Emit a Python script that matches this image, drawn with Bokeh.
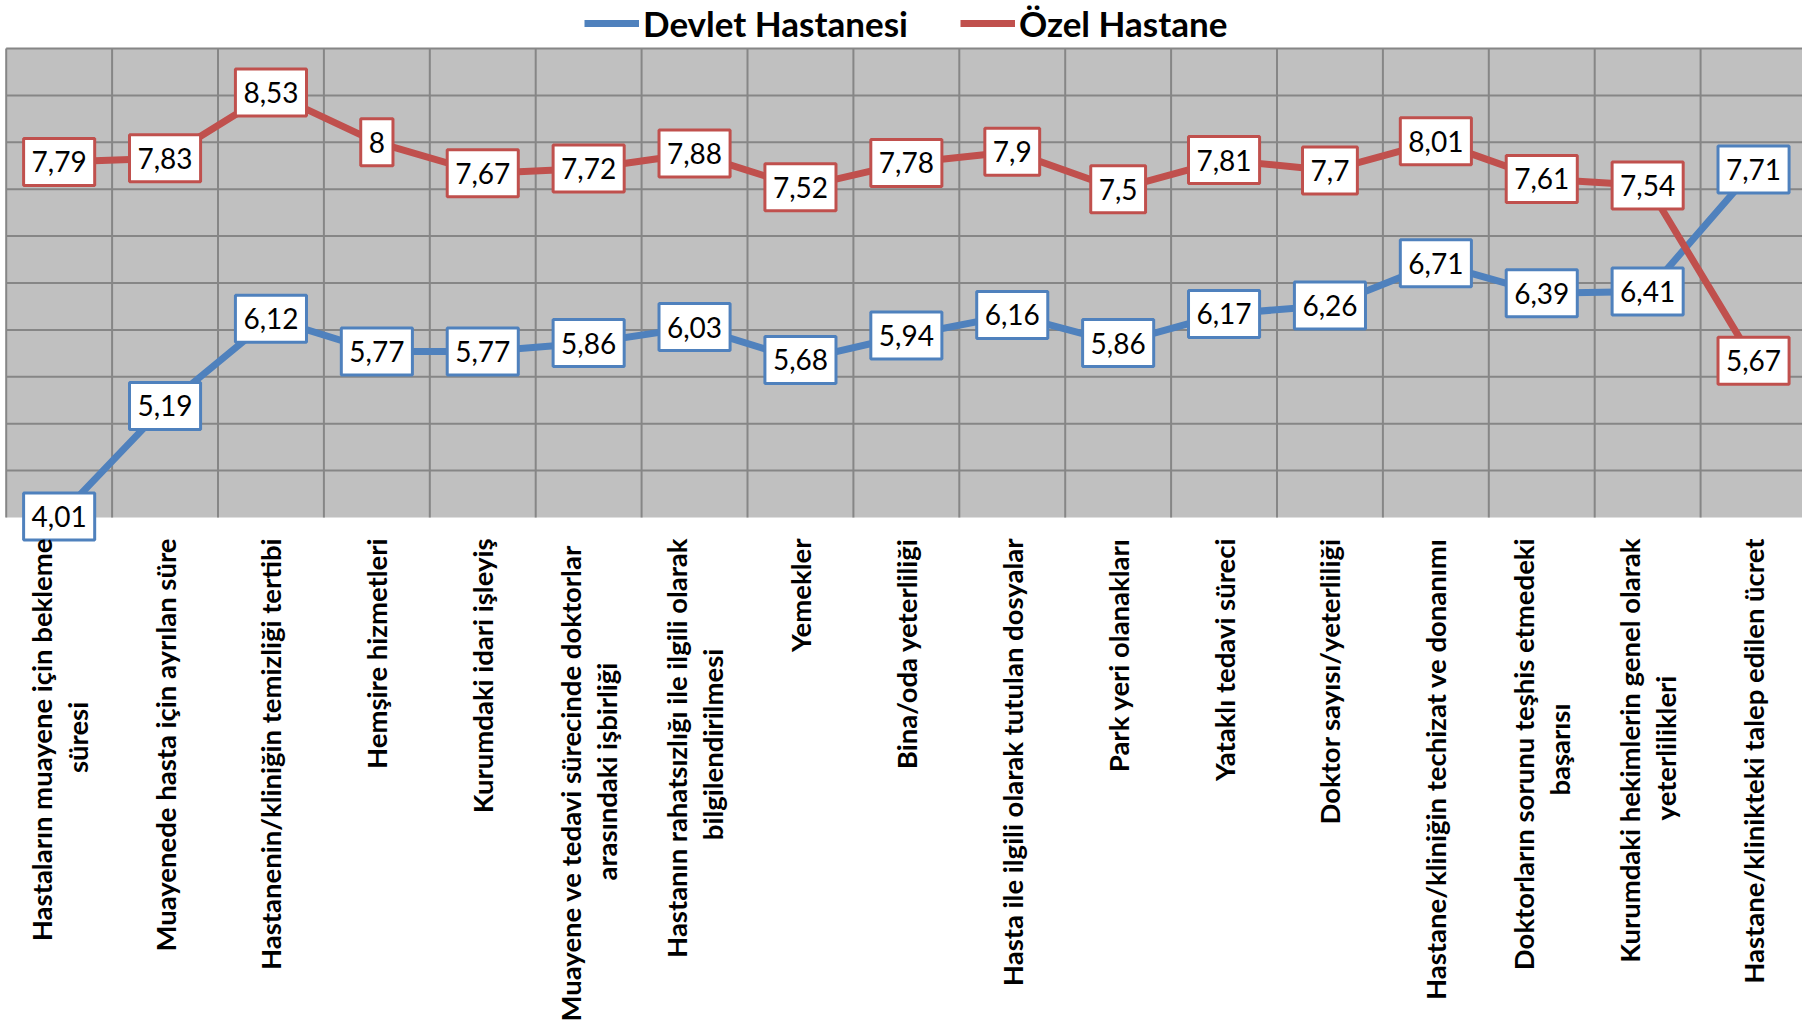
import math
from bokeh.plotting import figure
from bokeh.models import Range1d, Label, Legend, LegendItem
from bokeh.embed import file_html
from bokeh.resources import INLINE

# ---------------- data ----------------
categories = [
    "Hastaların muayene için bekleme\nsüresi",
    "Muayenede hasta için ayrılan süre",
    "Hastanenin/kliniğin temizliği tertibi",
    "Hemşire hizmetleri",
    "Kurumdaki idari işleyiş",
    "Muayene ve tedavi sürecinde  doktorlar\narasındaki işbirliği",
    "Hastanın rahatsızlığı ile ilgili olarak\nbilgilendirilmesi",
    "Yemekler",
    "Bina/oda yeterliliği",
    "Hasta ile ilgili olarak tutulan dosyalar",
    "Park yeri olanakları",
    "Yataklı tedavi süreci",
    "Doktor sayısı/yeterliliği",
    "Hastane/kliniğin techizat ve donanımı",
    "Doktorların sorunu teşhis etmedeki\nbaşarısı",
    "Kurumdaki hekimlerin genel olarak\nyeterlilikleri",
    "Hastane/klinikteki talep edilen ücret",
]
devlet = [4.01, 5.19, 6.12, 5.77, 5.77, 5.86, 6.03, 5.68, 5.94, 6.16, 5.86, 6.17, 6.26, 6.71, 6.39, 6.41, 7.71]
ozel = [7.79, 7.83, 8.53, 8.00, 7.67, 7.72, 7.88, 7.52, 7.78, 7.90, 7.50, 7.81, 7.70, 8.01, 7.61, 7.54, 5.67]
series_names = ["Devlet Hastanesi", "Özel Hastane"]
series_colors = ["#4F81BD", "#C0504D"]
y_min, y_max = 4.0, 9.0
y_grid_ticks = [4.5, 5.0, 5.5, 6.0, 6.5, 7.0, 7.5, 8.0, 8.5, 9.0]

# ---------------- layout ----------------
FIG_W = 1802
FIG_H = 1029
PLOT_LEFT = 5.7        # px from figure left to plot area left
PLOT_TOP = 48          # px from figure top to plot area top
PLOT_H = 469           # plot area height in px
CAT_PX = 105.9         # px per category
PX_PER_Y = PLOT_H / (y_max - y_min)
x_start = -0.5 - PLOT_LEFT / CAT_PX
x_end = x_start + FIG_W / CAT_PX
y_top = y_max + PLOT_TOP / PX_PER_Y
y_bot = y_min - (FIG_H - PLOT_TOP - PLOT_H) / PX_PER_Y

FONT = "Lato"
CAT_FONT_PX = 27.5
LINE_GAP = 36
LABEL_STANDOFF = 21
GRID_COLOR = "#868686"

# rough Lato Bold advance widths (em) used only to centre the short 2nd line
_W = {" ": 0.19, "i": 0.26, "l": 0.26, "ı": 0.26, "j": 0.26, "f": 0.33, "r": 0.38, "t": 0.37,
      "s": 0.43, "ş": 0.43, "c": 0.46, "z": 0.46, "m": 0.85, "w": 0.75, "/": 0.36,
      "g": 0.50, "ğ": 0.50, "a": 0.51, "e": 0.52, "k": 0.52, "v": 0.52, "y": 0.52}


def text_w(s):
    w = 0.0
    for ch in s:
        if ch in _W:
            w += _W[ch]
        elif ch.isupper():
            w += 0.68
        else:
            w += 0.56
    return w * CAT_FONT_PX


def fmt(v):
    s = f"{v:.2f}".rstrip("0").rstrip(".")
    return s.replace(".", ",")


p = figure(
    frame_width=FIG_W, frame_height=FIG_H,
    x_range=Range1d(x_start, x_end), y_range=Range1d(y_bot, y_top),
    x_axis_type=None, y_axis_type=None,
    output_backend="svg", toolbar_location=None,
    min_border=0,
)
p.background_fill_color = "white"
p.border_fill_color = "white"
p.outline_line_color = None
p.grid.visible = False

# plot area background
n = len(categories)
p.quad(left=[-0.5], right=[x_end], bottom=[y_min], top=[y_max],
       fill_color="#C0C0C0", line_color=None)

# grid lines
vx = [i - 0.5 for i in range(n + 1)]
p.segment(x0=vx, y0=[y_min] * len(vx), x1=vx, y1=[y_max] * len(vx),
          line_color=GRID_COLOR, line_width=2)
p.segment(x0=[-0.5] * len(y_grid_ticks), y0=y_grid_ticks,
          x1=[x_end] * len(y_grid_ticks), y1=y_grid_ticks,
          line_color=GRID_COLOR, line_width=2)

xs = list(range(n))
renderers = []
for vals, col in ((devlet, series_colors[0]), (ozel, series_colors[1])):
    r = p.line(xs, vals, line_color=col, line_width=7, line_join="round")
    renderers.append(r)

# data labels
for vals, col in ((devlet, series_colors[0]), (ozel, series_colors[1])):
    for i, v in enumerate(vals):
        p.add_layout(Label(
            x=i, y=v, text=fmt(v), text_align="center", text_baseline="middle",
            text_font=FONT, text_font_size="28px", text_color="black",
            background_fill_color="white", border_line_color=col, border_line_width=3,
            padding=(8, 13),
        ))

# category labels (rotated, top aligned under the plot)
top_y = y_min - LABEL_STANDOFF / PX_PER_Y
for i, cat in enumerate(categories):
    lines = cat.split("\n")
    common = dict(angle=math.pi / 2, text_baseline="middle", text_font=FONT,
                  text_font_style="bold", text_font_size=f"{CAT_FONT_PX}px",
                  text_color="black")
    if len(lines) == 1:
        p.add_layout(Label(x=i, y=top_y, text=lines[0], text_align="right", **common))
    else:
        dx = (LINE_GAP / 2) / CAT_PX
        w1 = text_w(lines[0])
        p.add_layout(Label(x=i - dx, y=top_y, text=lines[0], text_align="right", **common))
        p.add_layout(Label(x=i + dx, y=top_y - (w1 / 2) / PX_PER_Y, text=lines[1],
                           text_align="center", **common))

legend = Legend(
    items=[LegendItem(label=series_names[k], renderers=[renderers[k]]) for k in range(2)],
    orientation="horizontal", location=(584, FIG_H - 44),
    label_text_font=FONT, label_text_font_style="bold", label_text_font_size="35px",
    label_text_color="black", label_height=24,
    glyph_width=55, glyph_height=24, label_standoff=4, spacing=52,
    padding=0, margin=0, border_line_color=None, background_fill_alpha=0,
)
p.add_layout(legend, "center")

with open("out.html", "w") as f:
    f.write(file_html(p, INLINE))
